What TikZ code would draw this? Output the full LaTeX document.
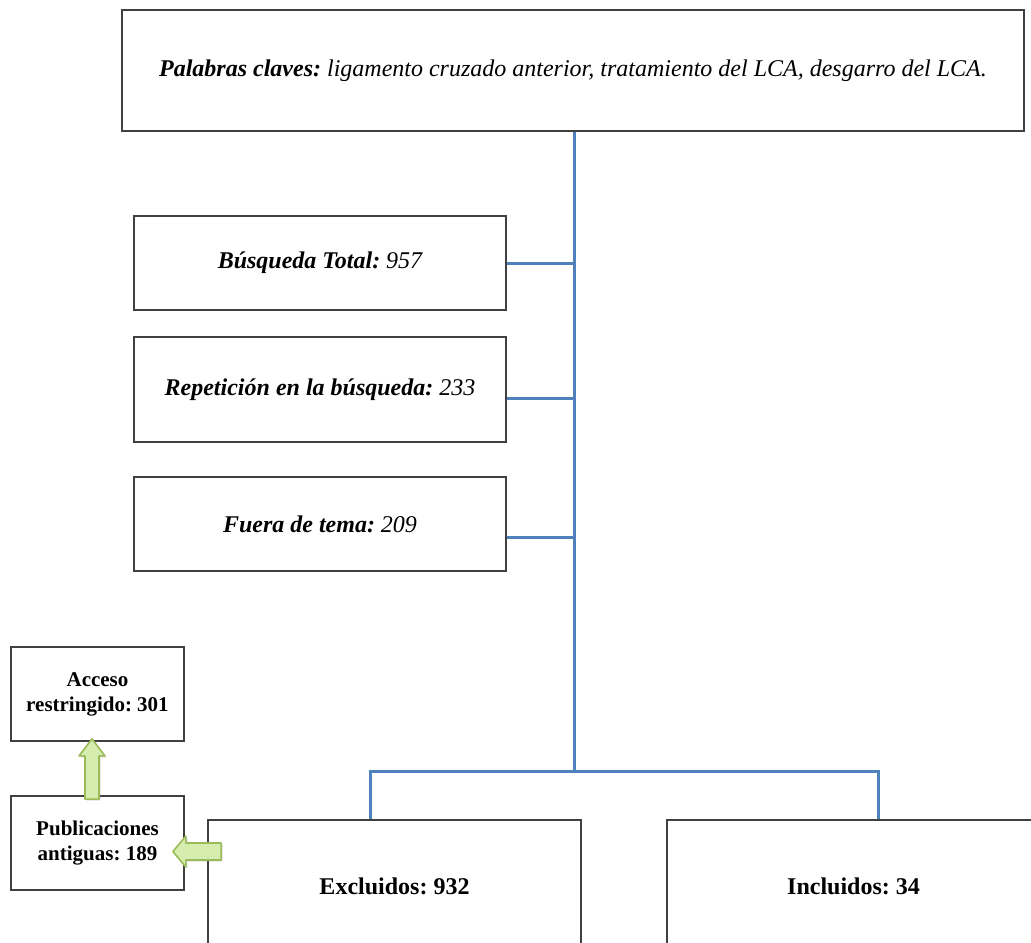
\documentclass[tikz,border=0pt]{standalone}
\usepackage{fontspec}
\setmainfont{Liberation Serif}
\frenchspacing
\usetikzlibrary{calc,shadows}
\definecolor{azul}{HTML}{4F81BD}
\definecolor{verdefill}{HTML}{D5EDAE}
\definecolor{verdeline}{HTML}{9BBB59}
\tikzset{
  caja/.style={draw=black!75, line width=0.9pt, fill=white, inner sep=0pt, align=center, font=\fontsize{12}{14}\selectfont},
  cajita/.style={caja, font=\fontsize{10.5}{12.5}\selectfont\bfseries},
  linea/.style={draw=azul, line width=1.5pt},
  flecha/.style={fill=verdefill, draw=verdeline, line width=0.8pt, line join=round,
    drop shadow={opacity=0.25, shadow xshift=0.8pt, shadow yshift=-0.8pt}}
}
\begin{document}
\begin{tikzpicture}[x=0.5pt,y=-0.5pt]
    \clip (0,0) rectangle (1031,942);
    \fill[white] (0,0) rectangle (1031,942);

    % palabras claves
    \node[caja, minimum width=451pt, minimum height=60.5pt] (claves) at (573,70.5)
      {\itshape\textbf{Palabras claves:} ligamento cruzado anterior, tratamiento del LCA, desgarro del LCA.};

    % busqueda
    \node[caja, minimum width=186pt, minimum height=47pt] (busq) at (320,263) {\itshape\textbf{Búsqueda Total:} 957};
    \node[caja, minimum width=186pt, minimum height=52.5pt] (repe) at (320,389.5) {\itshape\textbf{Repetición en la búsqueda:} 233};
    \node[caja, minimum width=186pt, minimum height=47pt] (fuera) at (320,524) {\itshape\textbf{Fuera de tema:} 209};

    % resultados
    \node[caja, minimum width=186.5pt, minimum height=66pt] (excl) at (394.5,886) {\bfseries Excluidos: 932};
    \node[caja, minimum width=186.5pt, minimum height=66pt] (incl) at (853.5,886) {\bfseries Incluidos: 34};

    % excluidos por
    \node[cajita, minimum width=86.5pt, minimum height=47pt] (acceso) at (97.5,694) {Acceso\\restringido: 301};
    \node[cajita, minimum width=86.5pt, minimum height=47pt] (publ) at (97.5,843) {Publicaciones\\antiguas: 189};

    % lineas azules
    \coordinate (bus) at (574,771);
    \coordinate (bl) at (370,771);
    \coordinate (br) at (878,771);
    \coordinate (r) at ($(repe.east)+(0,8.5)$);
    \coordinate (f) at ($(fuera.east)+(0,13)$);
    \draw[linea] (claves.south -| bus) -- (bus);
    \draw[linea] (busq.east) -- (busq.east -| bus);
    \draw[linea] (r) -- (r -| bus);
    \draw[linea] (f) -- (f -| bus);
    \draw[linea] (excl.north -| bl) -- (bl) -- (br) -- (incl.north -| br);

    % flechas verdes
    \coordinate (ua) at ($(publ.north)+(-5.5,4)$);
    \coordinate (ub) at ($(acceso.south)+(-5.5,-3)$);
    \draw[flecha] ($(ua)+(-7,0)$) -- ($(ua)+(7,0)$) -- ($(ub)+(7,17)$) -- ($(ub)+(13,17)$)
      -- (ub) -- ($(ub)+(-13,17)$) -- ($(ub)+(-7,17)$) -- cycle;
    \coordinate (la) at ($(excl.west)+(14,-34.5)$);
    \coordinate (lb) at ($(publ.east)+(-12,8.5)$);
    \draw[flecha] ($(la)+(0,-8.5)$) -- ($(la)+(0,8.5)$) -- ($(lb)+(13,8.5)$) -- ($(lb)+(13,15.5)$)
      -- (lb) -- ($(lb)+(13,-15.5)$) -- ($(lb)+(13,-8.5)$) -- cycle;
\end{tikzpicture}
\end{document}
